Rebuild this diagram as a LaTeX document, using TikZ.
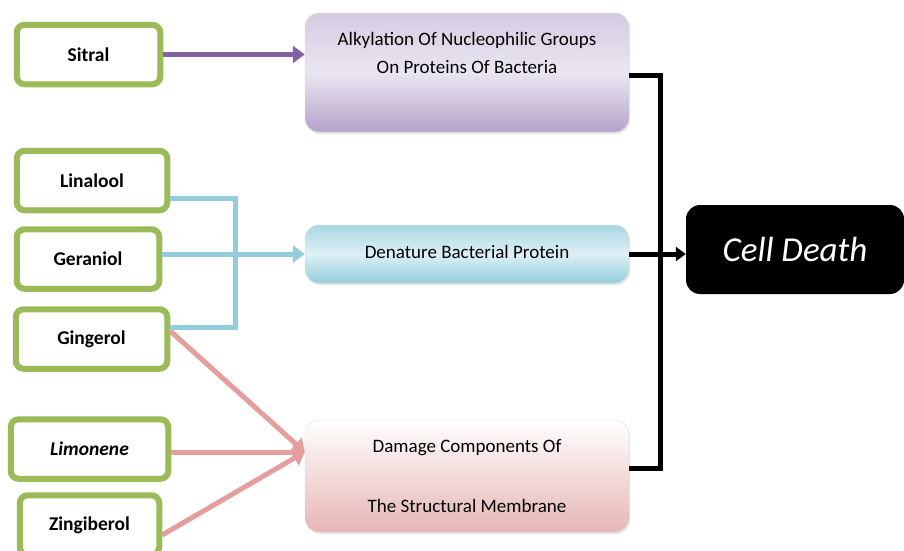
\documentclass[tikz,border=0pt]{standalone}
\usepackage{fontspec}
\setmainfont{Carlito}
\usetikzlibrary{arrows.meta,shadows}
\definecolor{grn}{RGB}{155,187,89}
\definecolor{purp}{RGB}{128,100,162}
\definecolor{purpD}{RGB}{180,163,202}
\definecolor{purpL}{RGB}{234,230,241}
\definecolor{cyn}{RGB}{147,205,221}
\definecolor{cynL}{RGB}{222,240,245}
\definecolor{rose}{RGB}{229,158,158}
\definecolor{roseD}{RGB}{230,182,181}
\newcommand{\agentfont}{\fontsize{19.5}{23}\selectfont\bfseries}
\newcommand{\procfont}{\fontsize{19}{23}\selectfont}

\begin{document}
\begin{tikzpicture}[x=1pt,y=-1pt]
              \tikzstyle{agent} = [rectangle, rounded corners=8pt, draw=grn, line width=5.5pt, fill=white, font=\agentfont, minimum height=60pt]
              \tikzstyle{proc} = [rectangle, rounded corners=14pt, draw=black!15, line width=0.4pt, font=\procfont, align=center, minimum width=324pt, drop shadow={opacity=0.2, shadow xshift=1pt, shadow yshift=-2pt}]
              \tikzstyle{tip} = [-{Triangle[length=12pt, width=17pt]}]
              \clip (0,0) rectangle (904,550);
              \node (sit) [agent, minimum width=144pt] at (88.5,54.5) {Sitral};
              \node (lin) [agent, minimum width=151pt] at (92,180.5) {Linalool};
              \node (ger) [agent, minimum width=143pt] at (88,259) {Geraniol};
              \node (gin) [agent, minimum width=152pt] at (91.5,339) {Gingerol};
              \node (lim) [agent, minimum width=158pt, font=\agentfont\itshape] at (89.5,449) {Limonene};
              \node (zin) [agent, minimum width=140pt] at (89.5,525) {Zingiberol};
              \foreach \n in {sit,lin,ger,gin,lim,zin}
                \draw[grn, line width=1pt, rounded corners=5pt] ([shift={(5.5pt,-5.5pt)}]\n.north west) rectangle ([shift={(-5.5pt,5.5pt)}]\n.south east);
              \node (alk) [proc, minimum height=119pt, top color=purpL!60!purpD, bottom color=purpD, middle color=purpL] at (467,72.5) {};
              \node (alkT) [font=\procfont, align=center] at (467,53) {Alkylation Of Nucleophilic Groups\\[5pt]On Proteins Of Bacteria};
              \node (den) [proc, minimum height=58pt, top color=cyn!80, bottom color=cyn, middle color=cynL] at (467,254) {\raisebox{4pt}{Denature Bacterial Protein}};
              \node (dam) [proc, minimum height=112pt, top color=white, bottom color=roseD] at (467,476) {Damage Components Of\\[37pt]The Structural Membrane};
              \node (cd) [rectangle, rounded corners=14pt, fill=black, text=white, font=\fontsize{35}{42}\selectfont\itshape, minimum width=218pt, minimum height=89pt] at (795,249.5) {Cell Death};
              \draw[purp, line width=5pt, tip] (sit.east) -- (sit.east -| alk.west);
              \draw[cyn, line width=5pt] ([yshift=-18pt]lin.east) -| ([xshift=65pt, yshift=12pt]gin.east) -- ([yshift=12pt]gin.east);
              \draw[cyn, line width=5pt, tip] ([yshift=5pt]ger.east) -- ([yshift=5pt]ger.east -| den.west);
              \draw[rose, line width=5pt, tip] ([yshift=8pt]gin.east) -- ([yshift=24pt]dam.west);
              \draw[rose, line width=5pt, tip] ([yshift=-3pt]lim.east) -- ([yshift=24pt]dam.west);
              \draw[rose, line width=5pt, tip] ([yshift=-10pt]zin.east) -- ([yshift=24pt]dam.west);
              \draw[black, line width=5pt] ([yshift=-2.5pt]alk.east) -| ([xshift=31pt, yshift=8pt]dam.east) -- ([yshift=8pt]dam.east);
              \draw[black, line width=5pt, -{Triangle[length=10pt, width=14pt]}] (den.east) -- (den.east -| cd.west);
\end{tikzpicture}
\end{document}
